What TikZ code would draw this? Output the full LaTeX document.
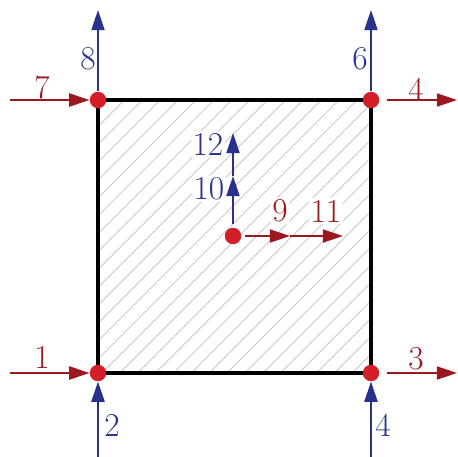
\documentclass[tikz,border=0pt]{standalone}
\usepackage{xcolor}
\usetikzlibrary{arrows.meta,patterns.meta}
\definecolor{dotred}{RGB}{212,30,40}
\definecolor{arrred}{RGB}{155,25,30}
\definecolor{arrblue}{RGB}{40,50,140}
\definecolor{hatchgray}{RGB}{200,200,200}
\begin{document}
\begin{tikzpicture}[
  x=0.02cm, y=-0.02cm, >={Triangle[length=11.5pt,width=7.5pt]},
  dot/.style={circle, fill=dotred, inner sep=0pt, minimum size=0.33cm},
  redarr/.style={->, line width=0.9pt, arrred},
  bluearr/.style={->, line width=0.9pt, arrblue},
  redlbl/.style={text=arrred, inner sep=1pt, font=\fontsize{19}{21}\selectfont},
  bluelbl/.style={text=arrblue, inner sep=1pt, font=\fontsize{19}{21}\selectfont},
  inlbl/.style={fill=white},
  plate/.style={draw=black, line width=2pt, pattern={Lines[angle=45,distance=7.2pt,line width=0.5pt]}, pattern color=hatchgray}
]
\useasboundingbox (0,0) rectangle (458,457);

% plate
\draw[plate] (98,100) rectangle (371,373);

% nodes
\node[dot] (tl) at (98,100) {};
\node[dot] (tr) at (371,100) {};
\node[dot] (bl) at (98,373) {};
\node[dot] (br) at (371,373) {};
\node[dot] (c) at (233,236) {};

% free ends
\coordinate (e7) at (10,100);
\coordinate (e8) at (98,10);
\coordinate (e6) at (371,10);
\coordinate (e4t) at (457,100);
\coordinate (e1) at (10,373);
\coordinate (e2) at (98,457);
\coordinate (e3) at (457,373);
\coordinate (e4b) at (371,457);
\coordinate (e9) at (290,236);
\coordinate (e11) at (343,236);
\coordinate (e10) at (233,176);
\coordinate (e12) at (233,133);

% labels
\node[redlbl] (l7) at (42,87) {7};
\node[bluelbl] (l8) at (88,59) {8};
\node[bluelbl] (l6) at (360,59) {6};
\node[redlbl] (l4t) at (416,89) {4};
\node[redlbl] (l1) at (42,357) {1};
\node[bluelbl] (l2) at (112,425) {2};
\node[redlbl] (l3) at (416,359) {3};
\node[bluelbl] (l4b) at (383,425) {4};
\node[redlbl, inlbl] (l9) at (280,211) {9};
\node[redlbl, inlbl] (l11) at (326,211) {11};
\node[bluelbl, inlbl] (l10) at (209,189) {10};
\node[bluelbl, inlbl] (l12) at (208,144) {12};

% arrows
\draw[redarr] (e7) -- (tl);
\draw[bluearr] (tl) -- (e8);
\draw[bluearr] (tr) -- (e6);
\draw[redarr, shorten <=4pt] (tr) -- (e4t);
\draw[redarr] (e1) -- (bl);
\draw[bluearr] (e2) -- (bl);
\draw[redarr, shorten <=4pt] (br) -- (e3);
\draw[bluearr] (e4b) -- (br);
\draw[redarr, shorten <=2pt] (c) -- (e9);
\draw[redarr] (e9) -- (e11);
\draw[bluearr, shorten <=2pt] (c) -- (e10);
\draw[bluearr] (e10) -- (e12);
\end{tikzpicture}
\end{document}
